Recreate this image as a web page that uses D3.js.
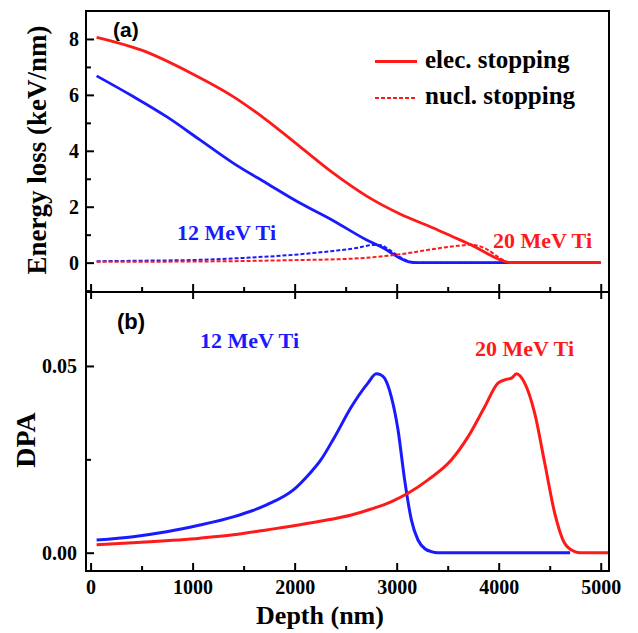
<!DOCTYPE html>
<html><head><meta charset="utf-8">
<script src="https://cdn.jsdelivr.net/npm/d3@7"></script>
<style>
body{margin:0;background:#fff}svg{display:block}
.serif{font-family:"Liberation Serif","Times New Roman","DejaVu Serif",serif;font-weight:bold}
.sans{font-family:"Liberation Sans",Arial,sans-serif;font-weight:bold}
</style>
</head><body>
<script>
const depthTicks = [0, 1000, 2000, 3000, 4000, 5000];
const elossTicks = [0, 2, 4, 6, 8];
const dpaTicks = [0.00, 0.05];

// Panel (a): electronic stopping
const elec12 = [[59,6.68],[418,5.94],[745,5.22],[1072,4.39],[1398,3.56],[1725,2.84],[2052,2.13],[2379,1.5],[2706,0.81],[2869,0.52],[3033,0.16],[3120,0.03],[3200,0],[5000,0]];
const elec20 = [[59,8.06],[500,7.6],[1000,6.75],[1398,5.94],[1725,5.1],[2052,4.15],[2379,3.2],[2706,2.38],[3033,1.74],[3359,1.24],[3535,0.95],[3764,0.57],[3900,0.3],[4000,0.12],[4124,0],[5000,0]];
// Panel (a): nuclear stopping
const nucl12 = [[59,0.05],[500,0.07],[1072,0.1],[1500,0.17],[2052,0.3],[2379,0.42],[2600,0.52],[2771,0.63],[2850,0.62],[2902,0.52],[3033,0.2],[3130,0.03],[3200,0],[4100,0]];
const nucl20 = [[59,0.03],[1000,0.04],[2000,0.09],[2555,0.14],[3033,0.3],[3425,0.52],[3600,0.6],[3731,0.64],[3800,0.6],[3862,0.52],[3993,0.21],[4070,0.04],[4124,0],[4200,0]];
// Panel (b): DPA
const dpa12 = [[59,0.0034],[418,0.0043],[745,0.0056],[1072,0.0074],[1398,0.0096],[1725,0.0128],[1987,0.0168],[2150,0.0213],[2248,0.0245],[2392,0.031],[2555,0.039],[2718,0.0454],[2800,0.0479],[2840,0.0477],[2882,0.0467],[2947,0.0418],[3013,0.0329],[3078,0.0195],[3144,0.0088],[3209,0.0034],[3280,0.001],[3340,0.0003],[3400,0],[4700,0]];
const dpa20 = [[59,0.0021],[500,0.0028],[1072,0.0039],[1400,0.0048],[1725,0.0061],[2248,0.0084],[2555,0.0101],[2750,0.0117],[2950,0.0137],[3111,0.0159],[3307,0.0195],[3535,0.0248],[3699,0.031],[3862,0.039],[3993,0.0454],[4075,0.0464],[4130,0.0468],[4173,0.0479],[4255,0.0454],[4353,0.0373],[4451,0.024],[4549,0.0106],[4647,0.0025],[4745,0.0003],[4800,0],[5080,0]];

const W = 638, H = 633;
const L = 86, R = 609, Ta = 11, Mid = 292, Bb = 571;
const RED = "#ff1a1a", BLUE = "#1a1aff";

const svg = d3.select("body").append("svg").attr("width", W).attr("height", H);

const x = d3.scaleLinear().domain([-45, 5081]).range([L, R]);
const ya = d3.scaleLinear().domain([-1.05, 9.0]).range([Mid, Ta]);
const yb = d3.scaleLinear().domain([-0.0049, 0.0698]).range([Bb, Mid]);

function line(y){ return d3.line().curve(d3.curveMonotoneX).x(d=>x(d[0])).y(d=>y(d[1])); }

svg.append("clipPath").attr("id","ca").append("rect").attr("x",L).attr("y",Ta).attr("width",R-L).attr("height",Mid-Ta);
svg.append("clipPath").attr("id","cb").append("rect").attr("x",L).attr("y",Mid).attr("width",R-L).attr("height",Bb-Mid);

const ga = svg.append("g").attr("clip-path","url(#ca)");
ga.append("path").datum(elec12).attr("d",line(ya)).attr("fill","none").attr("stroke",BLUE).attr("stroke-width",2.8);
ga.append("path").datum(nucl12).attr("d",line(ya)).attr("fill","none").attr("stroke",BLUE).attr("stroke-width",2).attr("stroke-dasharray","4,2");
ga.append("path").datum(nucl20).attr("d",line(ya)).attr("fill","none").attr("stroke",RED).attr("stroke-width",2).attr("stroke-dasharray","4,2");
ga.append("path").datum(elec20).attr("d",line(ya)).attr("fill","none").attr("stroke",RED).attr("stroke-width",2.8);

const gb = svg.append("g").attr("clip-path","url(#cb)");
gb.append("path").datum(dpa12).attr("d",line(yb)).attr("fill","none").attr("stroke",BLUE).attr("stroke-width",3);
gb.append("path").datum(dpa20).attr("d",line(yb)).attr("fill","none").attr("stroke",RED).attr("stroke-width",3);

svg.append("rect").attr("x",L).attr("y",Ta).attr("width",R-L).attr("height",Bb-Ta).attr("fill","none").attr("stroke","#000").attr("stroke-width",2);
svg.append("line").attr("x1",L).attr("x2",R).attr("y1",Mid).attr("y2",Mid).attr("stroke","#000").attr("stroke-width",2);

function styleAxis(g){
  g.attr("font-family",null).attr("font-size",null);
  g.select(".domain").remove();
  g.selectAll(".tick line").attr("stroke","#000").attr("stroke-width",2);
  g.selectAll(".tick text").attr("class","serif").style("font-size","20px").attr("fill","#000");
}
const minorX = d3.range(500, 5001, 1000);
styleAxis(svg.append("g").attr("transform",`translate(0,${Bb})`)
  .call(d3.axisBottom(x).tickValues(depthTicks).tickFormat(d3.format("d")).tickSizeInner(-8).tickPadding(9)));
styleAxis(svg.append("g").attr("transform",`translate(0,${Bb})`).call(d3.axisBottom(x).tickValues(minorX).tickFormat("").tickSizeInner(-5)));
styleAxis(svg.append("g").attr("transform",`translate(0,${Mid})`).call(d3.axisBottom(x).tickValues(depthTicks).tickFormat("").tickSizeInner(7)));
styleAxis(svg.append("g").attr("transform",`translate(0,${Mid})`).call(d3.axisBottom(x).tickValues(depthTicks).tickFormat("").tickSizeInner(-8)));
styleAxis(svg.append("g").attr("transform",`translate(0,${Mid})`).call(d3.axisBottom(x).tickValues(minorX).tickFormat("").tickSizeInner(-5)));

styleAxis(svg.append("g").attr("transform",`translate(${L},0)`)
  .call(d3.axisLeft(ya).tickValues(elossTicks).tickFormat(d3.format("d")).tickSizeInner(-8).tickPadding(7)));
styleAxis(svg.append("g").attr("transform",`translate(${L},0)`)
  .call(d3.axisLeft(ya).tickValues([-1,1,3,5,7]).tickFormat("").tickSizeInner(-5)));
styleAxis(svg.append("g").attr("transform",`translate(${L},0)`)
  .call(d3.axisLeft(yb).tickValues(dpaTicks).tickFormat(d3.format(".2f")).tickSizeInner(-8).tickPadding(9)));
styleAxis(svg.append("g").attr("transform",`translate(${L},0)`)
  .call(d3.axisLeft(yb).tickValues([0.025]).tickFormat("").tickSizeInner(-5)));

function txt(cls, size, attrs, t, fill){
  const e = svg.append("text").attr("class",cls).style("font-size",size+"px").attr("fill",fill||"#000");
  for (const k in attrs) e.attr(k, attrs[k]);
  e.text(t); return e;
}
txt("serif",27,{transform:"translate(46,150) rotate(-90)","text-anchor":"middle"},"Energy loss (keV/nm)");
txt("serif",28,{transform:"translate(35,440) rotate(-90)","text-anchor":"middle"},"DPA");
txt("serif",26,{x:320,y:624,"text-anchor":"middle"},"Depth (nm)");

txt("sans",21,{x:113,y:37},"(a)");
txt("sans",22,{x:117,y:329},"(b)");

svg.append("line").attr("x1",375).attr("x2",417).attr("y1",61.5).attr("y2",61.5).attr("stroke",RED).attr("stroke-width",2.8);
svg.append("line").attr("x1",375).attr("x2",417).attr("y1",98).attr("y2",98).attr("stroke",RED).attr("stroke-width",2).attr("stroke-dasharray","4,2");
txt("serif",25,{x:425,y:68},"elec. stopping");
txt("serif",25,{x:425,y:104},"nucl. stopping");

txt("serif",22,{x:177,y:240},"12 MeV Ti",BLUE);
txt("serif",22,{x:493,y:248},"20 MeV Ti",RED);
txt("serif",22,{x:200,y:348},"12 MeV Ti",BLUE);
txt("serif",22,{x:475,y:356},"20 MeV Ti",RED);
</script>
</body></html>
